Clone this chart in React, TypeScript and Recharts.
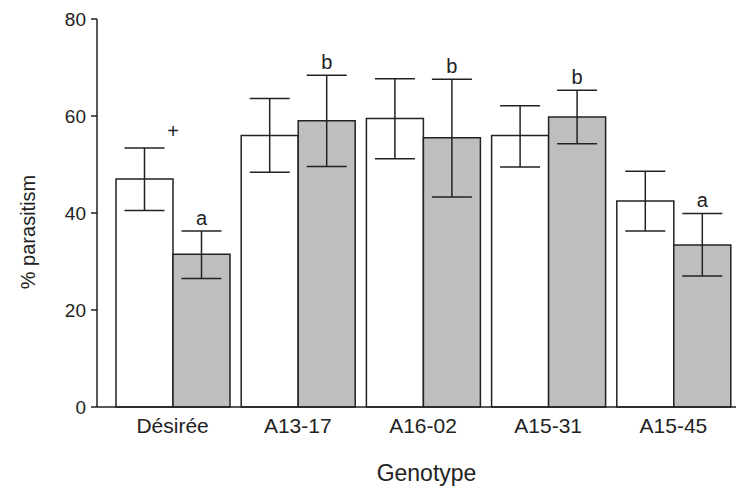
import { BarChart, Bar, XAxis, YAxis, ErrorBar, LabelList } from 'recharts'

const genotypes = ['Désirée', 'A13-17', 'A16-02', 'A15-31', 'A15-45']

// white bars
const whiteMeans = [47, 56, 59.5, 56, 42.5]
const whiteLow = [40.5, 48.4, 51.2, 49.5, 36.3]
const whiteHigh = [53.4, 63.6, 67.7, 62.1, 48.6]
const whiteMarks = ['+', '', '', '', '']

// grey bars
const greyMeans = [31.5, 59, 55.5, 59.8, 33.4]
const greyLow = [26.5, 49.6, 43.3, 54.3, 27.0]
const greyHigh = [36.3, 68.4, 67.6, 65.3, 39.9]
const greyLetters = ['a', 'b', 'b', 'b', 'a']

const yTicks = [0, 20, 40, 60, 80]

const data = genotypes.map((name, i) => ({
  name,
  white: whiteMeans[i],
  whiteErr: [whiteMeans[i] - whiteLow[i], whiteHigh[i] - whiteMeans[i]],
  whiteMark: whiteMarks[i],
  grey: greyMeans[i],
  greyErr: [greyMeans[i] - greyLow[i], greyHigh[i] - greyMeans[i]],
  greyLetter: greyLetters[i],
}))

const INK = '#222222'
const FONT = '"Liberation Sans", Arial, sans-serif'

function markLabel(highs: number[], means: number[], gap: number, atRight: boolean) {
  return (props: any) => {
    const { x, y, width, height, value, index } = props
    if (!value) return null
    const perUnit = height / means[index]
    const top = y - (highs[index] - means[index]) * perUnit
    return (
      <text
        x={atRight ? x + width : x + width / 2}
        y={top - gap}
        textAnchor="middle"
        dominantBaseline="central"
        fontSize={20}
        fontFamily={FONT}
        fill={INK}
      >
        {value}
      </text>
    )
  }
}

export default function App() {
  return (
    <div style={{ position: 'absolute', left: 0, top: 0, background: '#fff' }}>
      <BarChart
        width={737}
        height={487}
        data={data}
        margin={{ top: 19, right: 1, left: 0, bottom: 0 }}
        barCategoryGap={6}
        barGap={0}
      >
        <XAxis
          dataKey="name"
          height={80}
          padding={{ left: 13, right: 0 }}
          tickLine={false}
          tickMargin={5}
          axisLine={{ stroke: INK, strokeWidth: 1.5 }}
          tick={{ fill: INK, fontSize: 21, fontFamily: FONT }}
          label={{ value: 'Genotype', position: 'insideBottom', offset: 6, dx: 10, fill: INK, fontSize: 23, fontFamily: FONT }}
        />
        <YAxis
          width={97}
          domain={[0, 80]}
          ticks={yTicks}
          tickSize={6}
          tickMargin={5}
          axisLine={{ stroke: INK, strokeWidth: 1.5 }}
          tickLine={{ stroke: INK, strokeWidth: 1.5 }}
          tick={{ fill: INK, fontSize: 19, fontFamily: FONT }}
          label={{ value: '% parasitism', angle: -90, position: 'center', dx: -21, dy: 19, fill: INK, fontSize: 20, fontFamily: FONT }}
        />
        <Bar dataKey="white" fill="#ffffff" stroke={INK} strokeWidth={1.5} isAnimationActive={false}>
          <ErrorBar dataKey="whiteErr" width={20} stroke={INK} strokeWidth={1.5} direction="y" />
          <LabelList dataKey="whiteMark" content={markLabel(whiteHigh, whiteMeans, 17, true)} />
        </Bar>
        <Bar dataKey="grey" fill="#bebebe" stroke={INK} strokeWidth={1.5} isAnimationActive={false}>
          <ErrorBar dataKey="greyErr" width={20} stroke={INK} strokeWidth={1.5} direction="y" />
          <LabelList dataKey="greyLetter" content={markLabel(greyHigh, greyMeans, 13, false)} />
        </Bar>
      </BarChart>
    </div>
  )
}
